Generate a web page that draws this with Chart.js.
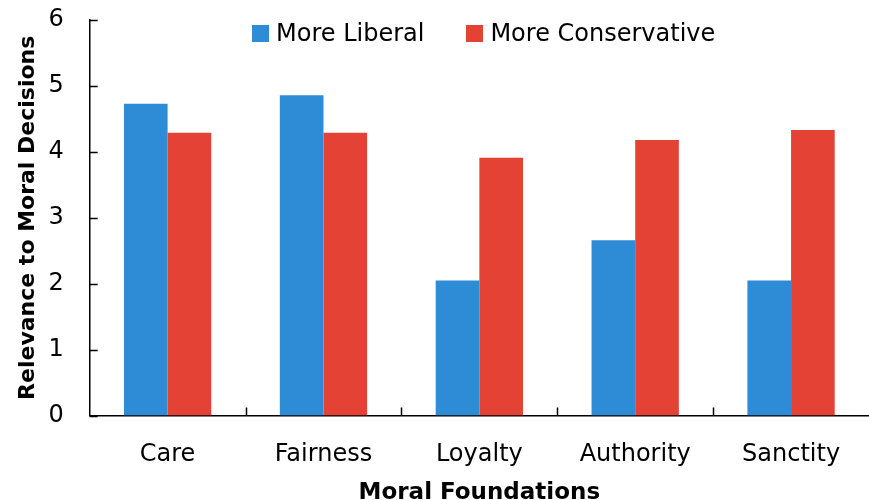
<!DOCTYPE html>
<html>
<head>
<meta charset="utf-8">
<title>Moral Foundations</title>
<script src="https://cdn.jsdelivr.net/npm/chart.js@4.4.1/dist/chart.umd.min.js"></script>
<style>
  html, body { margin: 0; padding: 0; background: #fff; }
  #wrap { position: relative; width: 869px; height: 500px; }
  #legenda {
    position: absolute;
    top: 19px;
    left: 0;
    width: 869px;
    display: flex;
    justify-content: flex-start;
    padding-left: 252px;
    box-sizing: border-box;
    font-family: 'DejaVu Sans', sans-serif;
    font-size: 24px;
    line-height: 28px;
    color: #000;
  }
  #legenda .item { display: flex; align-items: center; margin-right: 42px; }
  #legenda .box { width: 17px; height: 17px; margin-right: 7px; }
</style>
</head>
<body>
<div id="wrap">
  <canvas id="barras" width="869" height="500"></canvas>
  <div id="legenda"></div>
</div>
<script>
const foundations = ["Care", "Fairness", "Loyalty", "Authority", "Sanctity"];
const liberal = [4.73, 4.86, 2.05, 2.66, 2.05];
const conservative = [4.29, 4.29, 3.91, 4.18, 4.33];
const yTicks = [0, 1, 2, 3, 4, 5, 6];

const fontFamily = "'DejaVu Sans', sans-serif";

// small tick marks drawn inside the plot, like the original spreadsheet chart
const innerTicks = {
  id: "innerTicks",
  afterDraw(chart) {
    const ctx = chart.ctx;
    const area = chart.chartArea;
    const x = chart.scales.x;
    const y = chart.scales.y;

    ctx.save();
    ctx.strokeStyle = "#000";
    ctx.lineWidth = 1.5;
    ctx.beginPath();
    for (const value of yTicks) {
      const py = Math.round(y.getPixelForValue(value)) + 0.5;
      ctx.moveTo(area.left, py);
      ctx.lineTo(area.left + 8, py);
    }
    for (let i = 1; i < foundations.length; i++) {
      const px =
        Math.round((x.getPixelForValue(i - 1) + x.getPixelForValue(i)) / 2) + 0.5;
      ctx.moveTo(px, area.bottom);
      ctx.lineTo(px, area.bottom - 8);
    }
    ctx.stroke();
    ctx.restore();
  },
};

const chartBar = new Chart(document.getElementById("barras"), {
  type: "bar",
  data: {
    labels: foundations,
    datasets: [
      {
        label: "More Liberal",
        data: liberal,
        backgroundColor: "#2d8cd5",
        borderWidth: 0,
      },
      {
        label: "More Conservative",
        data: conservative,
        backgroundColor: "#e34235",
        borderWidth: 0,
      },
    ],
  },
  options: {
    responsive: false,
    animation: false,
    categoryPercentage: 0.56,
    barPercentage: 1,
    layout: {
      padding: { top: 0, right: 0, bottom: 0, left: 4 },
    },
    plugins: {
      legend: { display: false },
      tooltip: { enabled: false },
    },
    scales: {
      x: {
        offset: true,
        grid: { display: false, drawTicks: false },
        border: { display: true, color: "#000", width: 1.5 },
        ticks: {
          color: "#000",
          padding: 25,
          font: { family: fontFamily, size: 24 },
        },
        title: {
          display: true,
          text: "Moral Foundations",
          color: "#000",
          padding: { top: -15, bottom: -7 },
          font: { family: fontFamily, size: 23, weight: "bold" },
        },
      },
      y: {
        min: 0,
        max: 6,
        grid: { display: false, drawTicks: false },
        border: { display: true, color: "#000", width: 1.5 },
        ticks: {
          stepSize: 1,
          color: "#000",
          padding: 26,
          font: { family: fontFamily, size: 24 },
        },
        // the tick padding would otherwise also push the top of the plot down
        afterFit: (scale) => {
          scale.paddingTop = 20;
        },
        title: {
          display: true,
          text: "Relevance to Moral Decisions",
          color: "#000",
          padding: { top: 11, bottom: -19 },
          font: { family: fontFamily, size: 22, weight: "bold" },
        },
      },
    },
  },
  plugins: [innerTicks],
});

function renderLegend(chart) {
  const legenda = document.getElementById("legenda");
  for (const ds of chart.data.datasets) {
    const item = document.createElement("div");
    item.className = "item";
    const box = document.createElement("span");
    box.className = "box";
    box.style.background = ds.backgroundColor;
    const label = document.createElement("span");
    label.textContent = ds.label;
    item.appendChild(box);
    item.appendChild(label);
    legenda.appendChild(item);
  }
}

renderLegend(chartBar);
</script>
</body>
</html>
